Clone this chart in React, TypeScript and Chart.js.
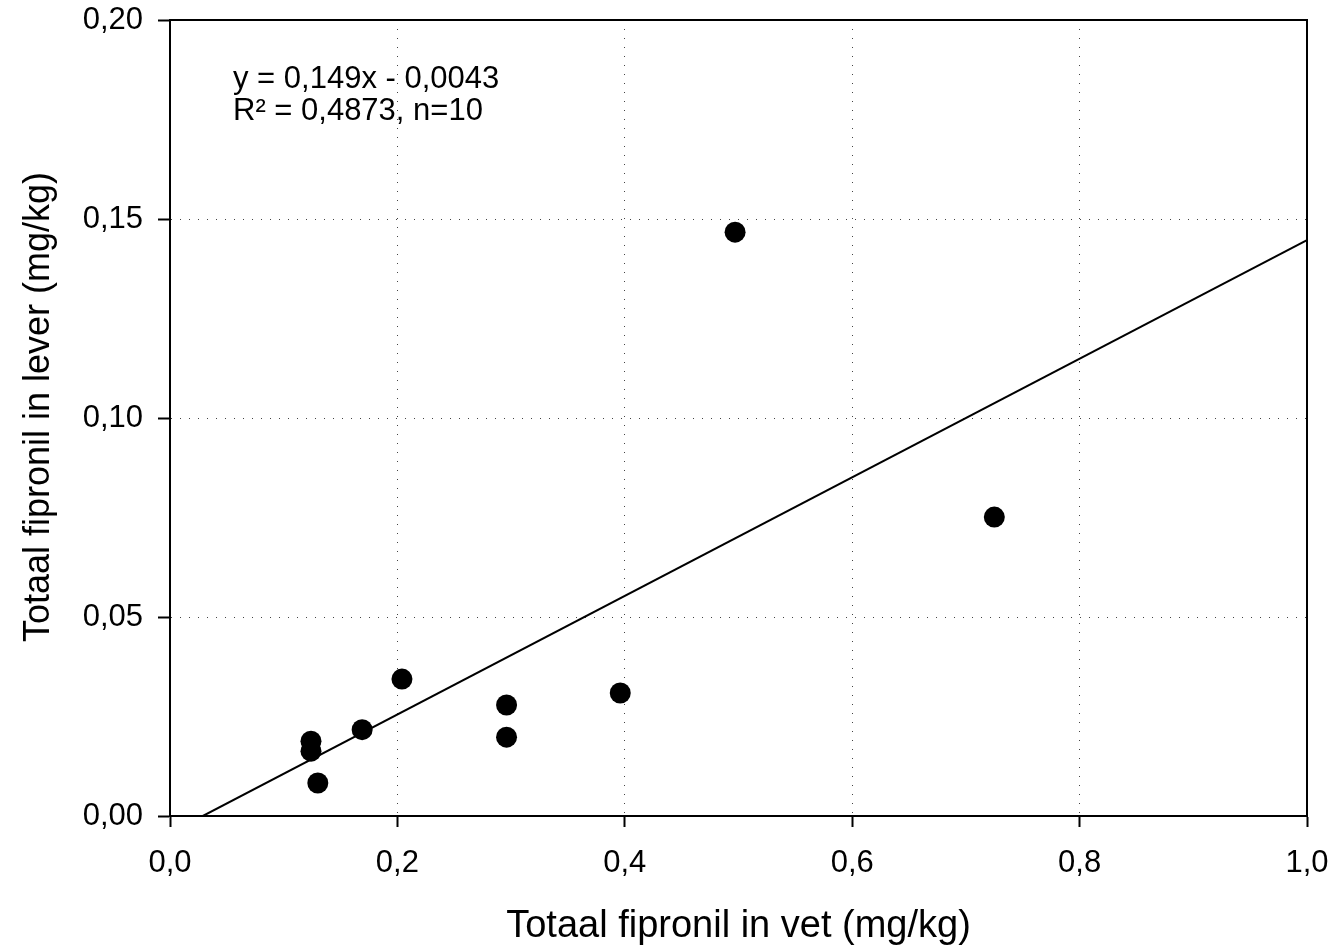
import React, { useEffect, useRef } from "react";
import { Chart, registerables } from "chart.js";

Chart.register(...registerables);

const vetX = [0.124, 0.124, 0.130, 0.169, 0.204, 0.296, 0.296, 0.396, 0.497, 0.725];
const leverY = [0.0188, 0.0163, 0.0083, 0.0217, 0.0344, 0.0279, 0.0198, 0.0309, 0.1467, 0.0751];
const slope = 0.149;
const intercept = -0.0043;
const fitXRange = [0.0289, 1.0];
const equationLines = ["y = 0,149x - 0,0043", "R\u00b2 = 0,4873, n=10"];
const xTitle = "Totaal fipronil in vet (mg/kg)";
const yTitle = "Totaal fipronil in lever (mg/kg)";

const FONT = "'Liberation Sans', Arial, sans-serif";

function zeroPad(scale: any) {
  scale.paddingTop = 0;
  scale.paddingBottom = 0;
  scale.paddingLeft = 0;
  scale.paddingRight = 0;
}

export default function App() {
  const ref = useRef<HTMLCanvasElement | null>(null);

  useEffect(() => {
    if (!ref.current) return;
    const points = vetX.map((x, i) => ({ x, y: leverY[i] }));
    const fit = fitXRange.map((x) => ({ x, y: slope * x + intercept }));

    const framePlugin = {
      id: "frame",
      afterDraw(chart: any) {
        const { ctx, chartArea } = chart;
        ctx.save();
        ctx.strokeStyle = "#000";
        ctx.lineWidth = 2;
        ctx.beginPath();
        ctx.moveTo(chartArea.left, chartArea.top);
        ctx.lineTo(chartArea.right, chartArea.top);
        ctx.lineTo(chartArea.right, chartArea.bottom);
        ctx.stroke();
        ctx.fillStyle = "#000";
        ctx.font = `31px ${FONT}`;
        ctx.textBaseline = "alphabetic";
        ctx.textAlign = "left";
        equationLines.forEach((t, i) => {
          ctx.fillText(t, chartArea.left + 63, chartArea.top + 68 + i * 32);
        });
        // axis titles
        ctx.textAlign = "center";
        ctx.font = `38px ${FONT}`;
        ctx.fillText(xTitle, (chartArea.left + chartArea.right) / 2, 937);
        ctx.save();
        ctx.translate(49, (chartArea.top + chartArea.bottom) / 2 - 11);
        ctx.rotate(-Math.PI / 2);
        ctx.font = `36px ${FONT}`;
        ctx.fillText(yTitle, 0, 0);
        ctx.restore();
        ctx.restore();
      },
    };

    const chart = new Chart(ref.current, {
      type: "scatter",
      data: {
        datasets: [
          {
            type: "line",
            data: fit,
            borderColor: "#000",
            borderWidth: 2,
            pointRadius: 0,
            fill: false,
          } as any,
          {
            data: points,
            backgroundColor: "#000",
            borderWidth: 0,
            pointRadius: 10.5,
            pointHoverRadius: 10.5,
          },
        ],
      },
      options: {
        responsive: false,
        animation: false,
        events: [],
        layout: { padding: { top: 20, right: 28, left: 0, bottom: 0 } },
        plugins: { legend: { display: false }, tooltip: { enabled: false } },
        scales: {
          x: {
            type: "linear",
            min: 0,
            max: 1,
            afterFit(scale: any) {
              scale.height = 134;
              zeroPad(scale);
            },
            ticks: {
              stepSize: 0.2,
              color: "#000",
              font: { family: FONT, size: 31 },
              padding: 18,
              callback: (v: any) => Number(v).toFixed(1).replace(".", ","),
            },
            grid: {
              color: (c: any) =>
                c.tick && (c.tick.value === 0 || c.tick.value === 1) ? "rgba(0,0,0,0)" : "#444",
              lineWidth: 1,
              tickColor: "#000",
              tickLength: 11,
              tickWidth: 2,
              tickBorderDash: [],
            },
            border: { display: true, color: "#000", width: 2, dash: [1, 8] },
            title: { display: false },
          },
          y: {
            type: "linear",
            min: 0,
            max: 0.2,
            afterFit(scale: any) {
              scale.width = 170;
              zeroPad(scale);
            },
            ticks: {
              stepSize: 0.05,
              color: "#000",
              font: { family: FONT, size: 31 },
              padding: 15,
              callback: (v: any) => Number(v).toFixed(2).replace(".", ","),
            },
            grid: {
              color: (c: any) =>
                c.tick && (Math.abs(c.tick.value) < 1e-9 || Math.abs(c.tick.value - 0.2) < 1e-9)
                  ? "rgba(0,0,0,0)"
                  : "#444",
              lineWidth: 1,
              tickColor: "#000",
              tickLength: 12,
              tickWidth: 2,
              tickBorderDash: [],
            },
            border: { display: true, color: "#000", width: 2, dash: [1, 8] },
            title: { display: false },
          },
        },
      },
      plugins: [framePlugin],
    });
    return () => chart.destroy();
  }, []);

  return (
    <div style={{ position: "absolute", left: 0, top: 0, width: 1335, height: 950, background: "#fff" }}>
      <canvas ref={ref} width={1335} height={950} style={{ display: "block" }} />
    </div>
  );
}
